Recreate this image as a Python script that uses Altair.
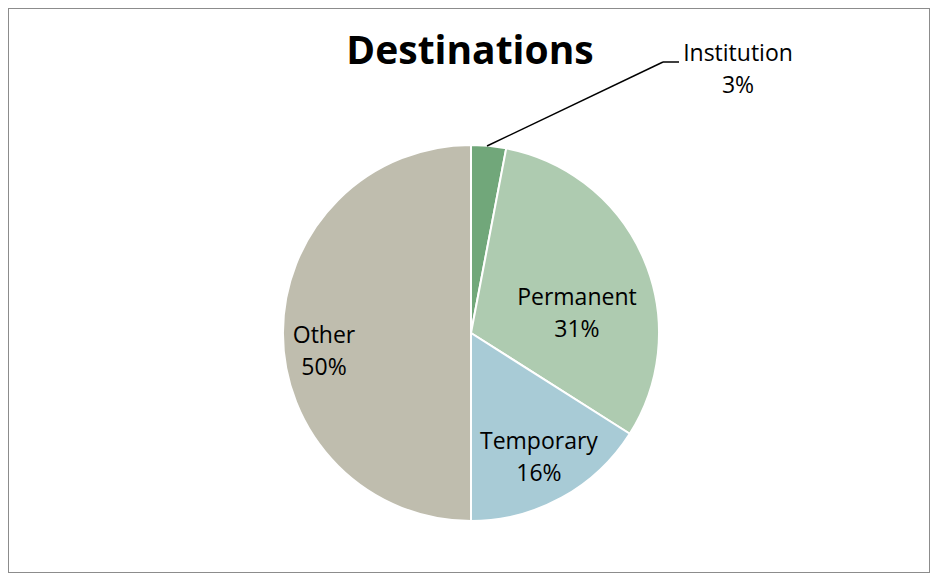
import altair as alt
import pandas as pd

categories = ["Institution", "Permanent", "Temporary", "Other"]
values = [3, 31, 16, 50]
colors = ["#71a77a", "#aecbb0", "#a8cbd6", "#bfbdae"]
title_text = "Destinations"

df = pd.DataFrame({"cat": categories, "pct": values, "idx": list(range(len(categories)))})

W, H = 922, 565
CX, CY, R = 463, 325, 188
FONT = "Open Sans"
FS = 23
LH = 32

base = alt.Chart(df)

pie = base.mark_arc(radius=R, stroke="white", strokeWidth=2).encode(
    theta=alt.Theta("pct:Q", stack=True),
    order=alt.Order("idx:Q"),
    color=alt.Color("cat:N", scale=alt.Scale(domain=categories, range=colors), legend=None),
    x=alt.value(CX),
    y=alt.value(CY),
)


def label(cat, r, dx=0, dy=0):
    return base.mark_text(
        font=FONT, fontSize=FS, color="#000000", lineBreak="\n", lineHeight=LH,
        align="center", baseline="middle", dx=dx, dy=dy,
    ).transform_calculate(
        t=f"datum.cat == '{cat}' ? datum.cat + '\\n' + datum.pct + '%' : ''"
    ).encode(
        theta=alt.Theta("pct:Q", stack=True),
        order=alt.Order("idx:Q"),
        radius=alt.value(r),
        text="t:N",
        x=alt.value(CX),
        y=alt.value(CY),
    )


lab_perm = label("Permanent", 110, dx=5, dy=9)
lab_temp = label("Temporary", 141, dy=-15)
lab_other = label("Other", 147, dy=3)

inst = base.transform_filter("datum.cat == 'Institution'").transform_calculate(
    t="datum.cat + '\\n' + datum.pct + '%'"
).mark_text(
    font=FONT, fontSize=FS, color="#000000", lineBreak="\n", lineHeight=LH,
    align="center", baseline="middle",
).encode(text="t:N", x=alt.value(730), y=alt.value(46))

leader1 = base.transform_filter("datum.cat == 'Institution'").mark_rule(
    color="#000000", strokeWidth=1.5
).encode(x=alt.value(479), y=alt.value(138), x2=alt.value(655), y2=alt.value(54))
leader2 = base.transform_filter("datum.cat == 'Institution'").mark_rule(
    color="#000000", strokeWidth=1.5
).encode(x=alt.value(655), y=alt.value(54), x2=alt.value(671), y2=alt.value(54))

title = alt.Chart(pd.DataFrame({"t": [title_text]})).mark_text(
    font=FONT, fontSize=39, fontWeight="bold", color="#000000",
    align="center", baseline="alphabetic",
).encode(text="t:N", x=alt.value(462), y=alt.value(56))

chart = alt.layer(pie, lab_perm, lab_temp, lab_other, leader1, leader2, inst, title).properties(
    width=W, height=H,
    padding=0,
    background="white",
).configure_view(stroke="#8c8c8c", strokeWidth=2)

chart.save("out.html", embed_options={"renderer": "svg", "actions": False})
